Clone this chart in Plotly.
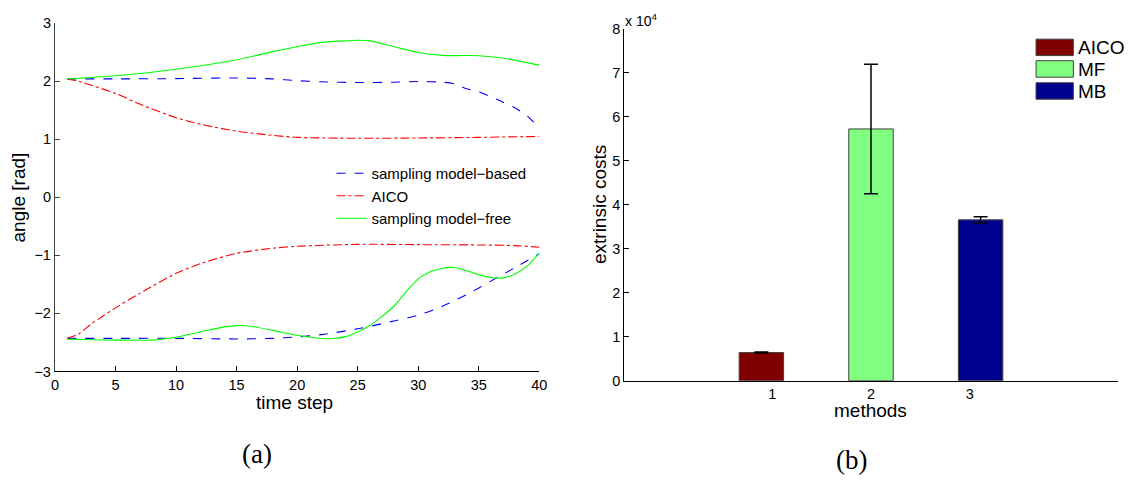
import plotly.graph_objects as go

W, H = 1142, 490

# ---------------- panel (a): joint angle trajectories ----------------
# joint 1 (upper group)
t_mb_1 = [1, 5, 10, 15, 18, 20, 22, 25, 28, 30, 32, 33, 34, 35, 36, 37, 38, 39, 40]
mb_1 = [2.04, 2.04, 2.045, 2.056, 2.04, 2.01, 1.99, 1.978, 1.983, 1.995, 1.983, 1.955,
        1.87, 1.817, 1.73, 1.64, 1.54, 1.40, 1.195]

t_aico_1 = [1, 2, 3, 5, 7, 10, 12, 15, 18, 20, 25, 30, 35, 40]
aico_1 = [2.04, 1.995, 1.93, 1.79, 1.606, 1.372, 1.26, 1.14, 1.067, 1.033, 1.017, 1.022, 1.033, 1.05]

t_mf_1 = [1, 5, 10, 15, 18, 20, 22, 24, 25, 26, 28, 30, 32, 35, 37, 40]
mf_1 = [2.04, 2.095, 2.206, 2.37, 2.51, 2.595, 2.67, 2.695, 2.706, 2.695, 2.595, 2.495,
        2.445, 2.44, 2.40, 2.278]

# joint 2 (lower group)
t_mb_2 = [1, 5, 10, 15, 18, 20, 22, 25, 28, 30, 32, 34, 36, 38, 40]
mb_2 = [-2.43, -2.43, -2.43, -2.44, -2.43, -2.405, -2.366, -2.266, -2.13, -2.03, -1.877,
        -1.677, -1.444, -1.21, -0.971]

t_aico_2 = [1, 2, 3, 4, 5, 7, 10, 12, 15, 18, 20, 25, 30, 35, 38, 40]
aico_2 = [-2.43, -2.35, -2.18, -2.04, -1.905, -1.655, -1.31, -1.144, -0.966, -0.877, -0.844,
          -0.81, -0.816, -0.821, -0.832, -0.86]

t_mf_2 = [1, 3, 5, 8, 10, 12, 14, 15, 16, 18, 20, 22, 23, 24, 25, 26, 28, 29, 30, 31, 32,
          33, 34, 35, 36, 37, 38, 39, 40]
mf_2 = [-2.444, -2.455, -2.46, -2.46, -2.41, -2.32, -2.232, -2.21, -2.216, -2.293, -2.377,
        -2.432, -2.432, -2.40, -2.32, -2.21, -1.877, -1.627, -1.405, -1.282, -1.221, -1.21,
        -1.266, -1.332, -1.382, -1.388, -1.321, -1.182, -0.96]

left_xticks = [0, 5, 10, 15, 20, 25, 30, 35, 40]
left_yticks = [-3, -2, -1, 0, 1, 2, 3]

# ---------------- panel (b): extrinsic costs ----------------
methods = ["AICO", "MF", "MB"]
bar_positions = [0.89, 2.0, 3.11]
costs = [6400, 57200, 36550]
cost_err = [120, 14700, 720]
right_xticks = [1, 2, 3]
right_yticks = [0, 10000, 20000, 30000, 40000, 50000, 60000, 70000, 80000]
right_yticklabels = ["0", "1", "2", "3", "4", "5", "6", "7", "8"]

bar_colors = ["#800000", "#80ff80", "#00008f"]

SANS = "Liberation Sans, Arial, sans-serif"
SERIF = "Liberation Serif, DejaVu Serif, serif"


def px(x):
    return x / W


def py(y):
    return 1 - y / H


fig = go.Figure()

line_specs = [
    ("sampling model\u2212based", "#0000ff", "dash", [(t_mb_1, mb_1), (t_mb_2, mb_2)]),
    ("AICO", "#ff0000", "dashdot", [(t_aico_1, aico_1), (t_aico_2, aico_2)]),
    ("sampling model\u2212free", "#00ff00", "solid", [(t_mf_1, mf_1), (t_mf_2, mf_2)]),
]
for name, color, dash, parts in line_specs:
    for i, (tx, vy) in enumerate(parts):
        fig.add_trace(go.Scatter(
            x=tx, y=vy, mode="lines", name=name, legendgroup=name,
            showlegend=(i == 0), legend="legend",
            line=dict(color=color, dash=dash, width=1.1, shape="spline", smoothing=0.7),
            xaxis="x", yaxis="y",
        ))

for m, xpos, c, e, col in zip(methods, bar_positions, costs, cost_err, bar_colors):
    fig.add_trace(go.Bar(
        x=[xpos], y=[c], name=m, width=0.45, showlegend=False,
        marker=dict(color=col, line=dict(color="#404040", width=1)),
        error_y=dict(type="data", array=[e], visible=True, color="black", thickness=1.5, width=7),
        xaxis="x2", yaxis="y2",
    ))

tickfont = dict(family=SANS, size=14.5, color="black")
titlefont = dict(family=SANS, size=19, color="black")

fig.update_layout(
    width=W, height=H,
    margin=dict(l=0, r=0, t=0, b=0),
    paper_bgcolor="white", plot_bgcolor="white",
    showlegend=True,
    xaxis=dict(domain=[px(51.5), px(541)], range=[0, 40], tickvals=left_xticks,
               ticks="inside", ticklen=5, tickcolor="black", showline=True,
               linecolor="black", linewidth=1, showgrid=False, zeroline=False,
               tickfont=tickfont, anchor="y"),
    yaxis=dict(domain=[py(375.7), py(15.7)], range=[-3, 3], tickvals=left_yticks,
               ticks="inside", ticklen=5, tickcolor="#444", showline=True,
               linecolor="#444", linewidth=1.2, showgrid=False, zeroline=False,
               tickfont=tickfont, anchor="x"),
    xaxis2=dict(domain=[px(626.7), px(1125.7)], range=[-0.5, 4.5], tickvals=right_xticks,
                ticks="", showline=True, linecolor="black", linewidth=1, showgrid=False,
                zeroline=False, tickfont=tickfont, anchor="y2"),
    yaxis2=dict(domain=[py(385.3), py(21.3)], range=[0, 80000], tickvals=right_yticks,
                ticktext=right_yticklabels, ticks="inside", ticklen=5, tickcolor="black",
                showline=True, linecolor="black", linewidth=1, showgrid=False,
                zeroline=False, tickfont=tickfont, anchor="x2"),
    legend=dict(x=px(331), y=py(154), xanchor="left", yanchor="top",
                bgcolor="rgba(0,0,0,0)", borderwidth=0,
                font=dict(family=SANS, size=15, color="black"),
                tracegroupgap=0, itemwidth=30),
    barmode="overlay",
)

# legend of panel (b): wide colour patches beside the method names
legend_rows = [40.7, 63.0, 85.8]
for m, col, yc in zip(methods, bar_colors, legend_rows):
    fig.add_shape(type="rect", xref="paper", yref="paper",
                  x0=px(1043), x1=px(1080.7), y0=py(yc + 8.5), y1=py(yc - 8.5),
                  fillcolor=col, line=dict(color="#404040", width=1))
    fig.add_annotation(text=m, x=px(1083), y=py(yc + 0.5), xanchor="left",
                       font=dict(family=SANS, size=19, color="black"))

annotations = [
    dict(text="time step", x=px(294), y=py(408), font=titlefont),
    dict(text="angle [rad]", x=px(15), y=py(196), font=titlefont, textangle=-90),
    dict(text="methods", x=px(876), y=py(416), font=titlefont),
    dict(text="extrinsic costs", x=px(602), y=py(203), font=titlefont, textangle=-90),
    dict(text="x 10<sup>4</sup>", x=px(626), y=py(12), xanchor="left",
         font=dict(family=SANS, size=14, color="black")),
    dict(text="(a)", x=px(256), y=py(461),
         font=dict(family=SERIF, size=27, color="black")),
    dict(text="(b)", x=px(856), y=py(467),
         font=dict(family=SERIF, size=27, color="black")),
]
for a in annotations:
    a.setdefault("xanchor", "center")
    fig.add_annotation(**a)

for a in fig.layout.annotations:
    a.update(xref="paper", yref="paper", showarrow=False, yanchor="middle")

fig.write_html("out.html")
